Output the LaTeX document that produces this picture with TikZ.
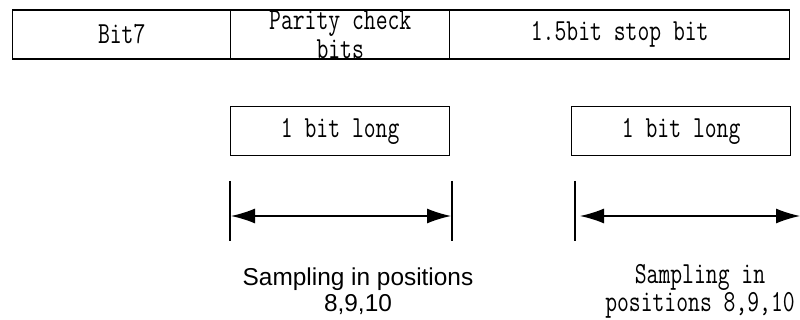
\documentclass[tikz,border=0pt]{standalone}
\usepackage{fontspec}
\usetikzlibrary{arrows.meta}
\setmainfont{Liberation Serif}
\newfontfamily\monof[FakeStretch=0.75]{Latin Modern Mono}
\newfontfamily\armf{Liberation Sans}
\tikzset{
  cell/.style={draw, line width=1.1pt, minimum height=36.5pt, inner sep=0pt, anchor=north west, align=center,
               font=\monof\fontsize{23}{22}\selectfont},
  bitbox/.style={draw, line width=1pt, minimum width=164.25pt, minimum height=36.75pt, inner sep=0pt, anchor=north west,
               font=\monof\fontsize{23}{22}\selectfont},
  tick/.style={line width=1pt},
  span/.style={line width=1pt, {Latex[length=18pt,width=11.25pt]}-{Latex[length=18pt,width=11.25pt]}},
  lbl/.style={align=center, inner sep=0pt}
}
\begin{document}
\begin{tikzpicture}[x=0.75pt,y=-0.75pt]
\useasboundingbox (0,0) rectangle (800,320);
% top row
\node[cell, minimum width=163.5pt] (b7) at (12,9.5) {Bit7};
\node[cell, minimum width=164.25pt] (par) at (230,9.5) {Parity check\\bits};
\node[cell, minimum width=255pt] (stop) at (449,9.5) {1.5bit stop bit};
% bit boxes
\node[bitbox] (box1) at (230,106) {1 bit long};
\node[bitbox] (box2) at (571,106) {1 bit long};
% ticks
\coordinate (t1a) at (230,181); \coordinate (t1b) at (230,241);
\coordinate (t2a) at (452,181); \coordinate (t2b) at (452,241);
\coordinate (t3a) at (575,181); \coordinate (t3b) at (575,241);
\draw[tick] (t1a) -- (t1b);
\draw[tick] (t2a) -- (t2b);
\draw[tick] (t3a) -- (t3b);
\coordinate (a1l) at (231,216); \coordinate (a1r) at (451,216);
\coordinate (a2l) at (580,216); \coordinate (a2r) at (800,216);
\draw[span] (a1l) -- (a1r);
\draw[span] (a2l) -- (a2r);
% labels
\node[lbl, font=\armf\fontsize{18.3}{19.5}\selectfont] (s1) at (358,291) {Sampling in positions\\8,9,10};
\node[lbl, font=\monof\fontsize{23}{21}\selectfont] (s2) at (700,291) {Sampling in\\positions 8,9,10};
\end{tikzpicture}
\end{document}
